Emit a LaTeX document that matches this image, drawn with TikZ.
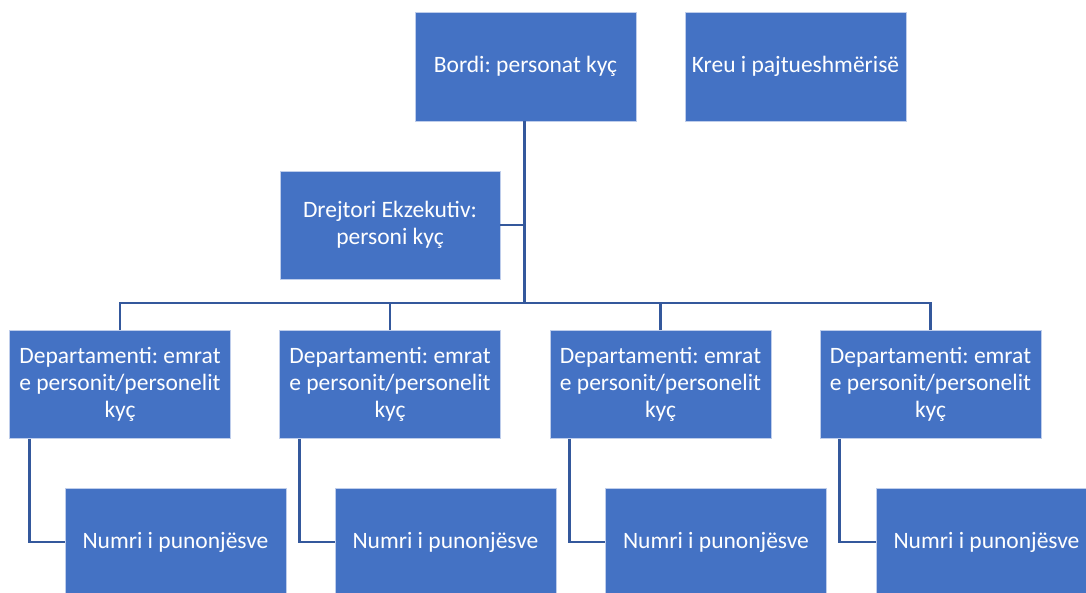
\documentclass[tikz,border=0pt]{standalone}
\usepackage{fontspec}
\setmainfont{Carlito}
\definecolor{boxblue}{RGB}{68,114,196}
\definecolor{lineblue}{RGB}{52,88,156}
\definecolor{edgeblue}{RGB}{190,205,235}
\tikzset{
  orgbox/.style={rectangle, fill=boxblue, draw=edgeblue, line width=0.6pt,
    minimum width=221pt, minimum height=109pt, text=white, align=center,
    font=\fontsize{23.5}{27}\selectfont, inner sep=2pt},
  conn/.style={draw=lineblue, line width=2.9pt},
  trunk/.style={draw=lineblue, line width=3.8pt}
}
\begin{document}
\frenchspacing
\begin{tikzpicture}[x=1pt,y=-1pt]
\useasboundingbox (0,0) rectangle (1086,592);
\clip (0,0) rectangle (1086,592);
\node[orgbox] (bord) at (525.5,66.5) {Bordi: personat kyç};
\node[orgbox] (kreu) at (795.5,66.5) {Kreu i pajtueshmërisë};
\node[orgbox, minimum width=220pt, minimum height=108pt] (drej) at (390,225) {Drejtori Ekzekutiv:\\personi kyç};
\foreach \i/\x in {1/120,2/390,3/660.5,4/930.5}{
  \node[orgbox, minimum height=108pt] (d\i) at (\x,384.5) {Departamenti: emrat\\e personit/personelit\\kyç};
}
\foreach \i/\x in {1/175.5,2/445.5,3/716,4/986.5}{
  \node[orgbox, minimum height=108pt] (n\i) at (\x,542) {Numri i punonjësve};
}
\coordinate (bus) at (524.5,303);
\draw[trunk] (bord.south -| bus) -- (bus);
\draw[conn] (drej.east) -- (drej.east -| bus);
\draw[conn] (d1.north) |- (bus) -| (d4.north);
\draw[conn] (d2.north) -- (d2.north |- bus);
\draw[conn] (d3.north) -- (d3.north |- bus);
\foreach \i in {1,2,3,4}{
  \coordinate (s\i) at ([xshift=20pt]d\i.south west);
  \draw[conn] (s\i) |- (n\i.west);
}
\end{tikzpicture}
\end{document}
